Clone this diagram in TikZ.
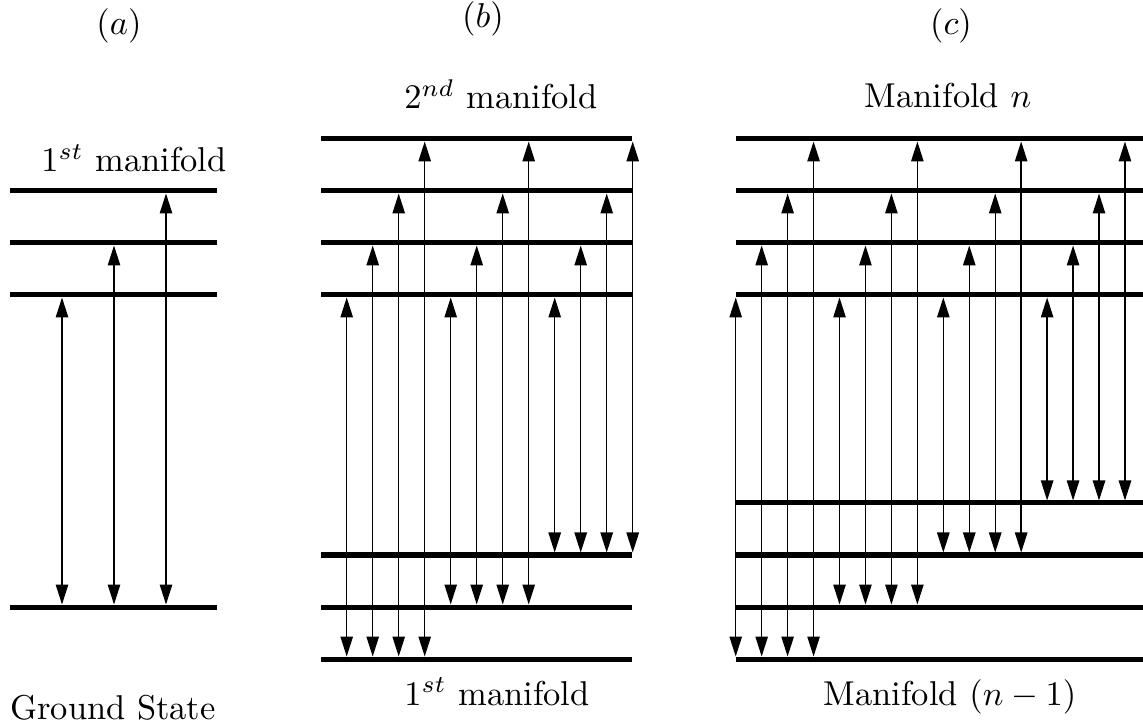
\documentclass[tikz,border=0pt]{standalone}
\usetikzlibrary{arrows.meta}
\begin{document}
\begin{tikzpicture}[x=0.29pt,y=-0.29pt,
  level/.style={line width=1.45pt},
  trans/.style={line width=0.4pt,
    {Triangle[length=5.8pt,width=3.6pt]}-{Triangle[length=5.8pt,width=3.6pt]}},
  lbl/.style={anchor=base,inner sep=0pt}]
\useasboundingbox (0,0) rectangle (1143,721);

% panel (a): ground state and first manifold
\foreach \y in {191,243,295,607}
  \draw[level] (10,\y) -- (217,\y);
\foreach \x/\t in {62/295,114/243,166/191}
  \draw[trans] (\x,604.5) -- (\x,\t+2.5);

% panel (b): first and second manifolds
\foreach \y in {139,191,243,295,555,607,659}
  \draw[level] (321,\y) -- (632,\y);
\foreach \g in {0,1,2}
  \foreach \j in {0,1,2,3}
    \draw[trans] ({346.7+26*(4*\g+\j)},{659-52*\g-2.5}) -- ({346.7+26*(4*\g+\j)},{295-52*\j+2.5});

% panel (c): manifolds n-1 and n
\foreach \y in {139,191,243,295,503,555,607,659}
  \draw[level] (735.7,\y) -- (1143,\y);
\foreach \g in {0,1,2,3}
  \foreach \j in {0,1,2,3}
    \draw[trans] ({735.7+25.95*(4*\g+\j)},{659-52*\g-2.5}) -- ({735.7+25.95*(4*\g+\j)},{295-52*\j+2.5});

% labels
\node[lbl] (ta) at (119,35) {$(a)$};
\node[lbl] (tb) at (483,28) {$(b)$};
\node[lbl] (tc) at (951,35) {$(c)$};
\node[lbl] (a1) at (134,172) {$1^{st}$ manifold};
\node[lbl] (a0) at (113,719) {Ground State};
\node[lbl] (b2) at (501,109) {$2^{nd}$ manifold};
\node[lbl] (b1) at (497,705) {$1^{st}$ manifold};
\node[lbl] (cn) at (948,108) {Manifold $n$};
\node[lbl] (cm) at (950,705) {Manifold $(n-1)$};
\end{tikzpicture}
\end{document}
